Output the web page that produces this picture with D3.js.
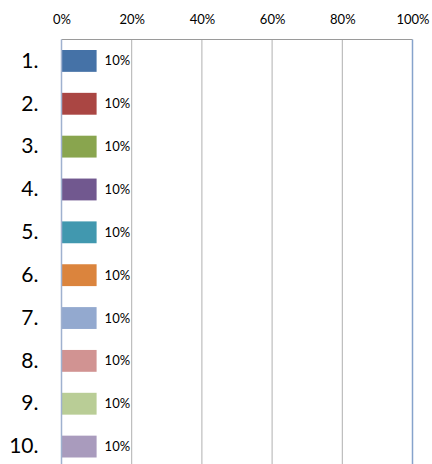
<!DOCTYPE html>
<html>
<head>
<meta charset="utf-8">
<script src="https://cdn.jsdelivr.net/npm/d3@7"></script>
<style>
  body { margin: 0; background: #fff; }
  svg { display: block; font-family: Lato, "Open Sans", sans-serif; }
</style>
</head>
<body>
<div id="chart"></div>
<script>
// data
var categories = ["1.", "2.", "3.", "4.", "5.", "6.", "7.", "8.", "9.", "10."];
var values = [10, 10, 10, 10, 10, 10, 10, 10, 10, 10];
var colors = ["#4572A7", "#AA4643", "#89A54E", "#71588F", "#4198AF",
              "#DB843D", "#93A9CF", "#D19392", "#B9CD96", "#A99BBD"];
var ticks = [0, 20, 40, 60, 80, 100];

// plot box (note: "top" is reserved on window, so use other names)
var W = 432, H = 464;
var plotL = 61.5, plotR = 412.5, plotT = 39.5, plotB = 468;

var svg = d3.select("#chart").append("svg")
    .attr("width", W)
    .attr("height", H);

var x = d3.scaleLinear().domain([0, 100]).range([plotL, plotR]);
var y = d3.scaleBand().domain(categories).range([plotT, plotB])
    .paddingInner(0.49).paddingOuter(0.245);

// gridlines
svg.append("g").selectAll("line")
    .data(ticks.slice(1, -1))
    .enter().append("line")
    .attr("x1", d => x(d)).attr("x2", d => x(d))
    .attr("y1", plotT).attr("y2", H)
    .style("stroke", "#b0b0b0")
    .style("stroke-width", 1);

// top border
svg.append("line")
    .attr("x1", plotL).attr("x2", plotR)
    .attr("y1", plotT).attr("y2", plotT)
    .style("stroke", "#9a9a9a");

// right border
svg.append("line")
    .attr("x1", plotR).attr("x2", plotR)
    .attr("y1", plotT).attr("y2", H)
    .style("stroke", "#86a3cc")
    .style("stroke-width", 1.5);

// top axis labels
var xAxis = d3.axisTop(x).tickValues(ticks).tickSize(0).tickPadding(0)
    .tickFormat(d => d + "%");
var gx = svg.append("g").attr("transform", "translate(0,24)").call(xAxis)
    .attr("font-family", null).attr("font-size", null);
gx.select(".domain").remove();
gx.selectAll("text").style("font-size", "13px").style("fill", "#000");

// bars
svg.append("g").selectAll("rect")
    .data(values)
    .enter().append("rect")
    .attr("x", x(0))
    .attr("y", (d, i) => y(categories[i]))
    .attr("width", d => x(d) - x(0))
    .attr("height", y.bandwidth())
    .style("fill", (d, i) => colors[i]);

// value labels
svg.append("g").selectAll("text")
    .data(values)
    .enter().append("text")
    .attr("x", d => x(d) + 8)
    .attr("y", (d, i) => y(categories[i]) + y.bandwidth() / 2)
    .attr("dy", "0.35em")
    .style("font-size", "13px")
    .text(d => d + "%");

// left axis
var yAxis = d3.axisLeft(y).tickSize(0).tickPadding(23);
var gy = svg.append("g").attr("transform", "translate(" + plotL + ",0)").call(yAxis)
    .attr("font-family", null).attr("font-size", null);
gy.select(".domain").remove();
gy.selectAll("text").style("font-size", "21px").style("fill", "#000");
svg.append("line")
    .attr("x1", plotL).attr("x2", plotL)
    .attr("y1", plotT).attr("y2", H)
    .style("stroke", "#9fb1cf")
    .style("stroke-width", 1.5);
</script>
</body>
</html>
